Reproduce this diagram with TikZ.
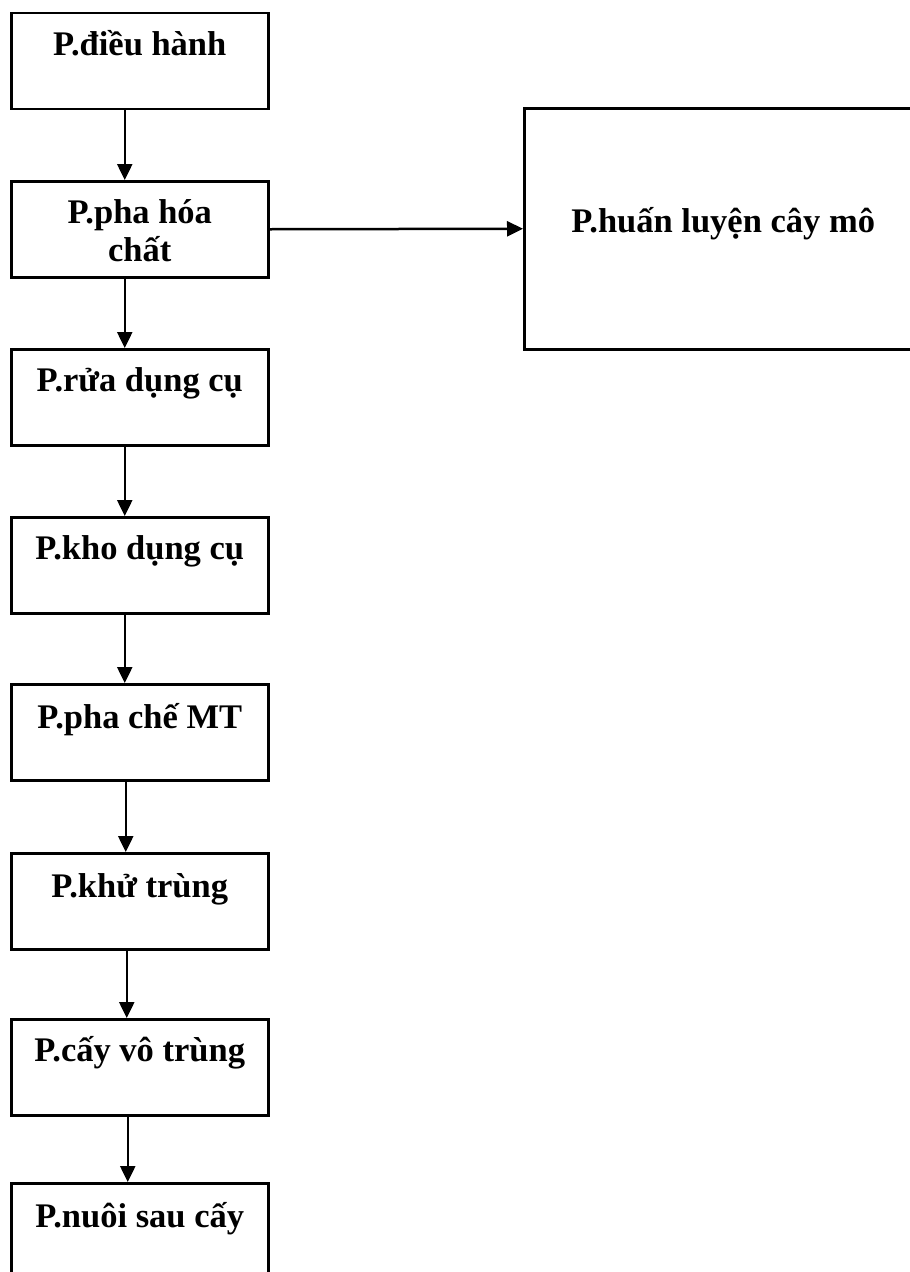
\documentclass[tikz,border=0pt]{standalone}
\usepackage{fontspec}
\setmainfont{Liberation Serif}
\usetikzlibrary{positioning, arrows.meta}
\tikzset{
  room/.style={draw, line width=2.5pt, minimum width=257pt, minimum height=96pt, anchor=north west, inner sep=0pt},
  roomname/.style={font=\bfseries\fontsize{34.5}{38}\selectfont, align=center, inner sep=0pt},
  flow/.style={line width=2.5pt, -{Triangle[length=16pt, width=15pt]}}
}
\begin{document}
\begin{tikzpicture}[x=1pt, y=-1pt]
\useasboundingbox (0, 0) rectangle (910, 1272);
% left column of rooms
\node [room] (dieuhanh) at (10, 11.5) {};
\node [room] (phahoachat) at (10, 180) {};
\node [room] (ruadungcu) at (10, 348) {};
\node [room] (khodungcu) at (10, 516) {};
\node [room] (phacheMT) at (10, 683) {};
\node [room] (khutrung) at (10, 852) {};
\node [room] (cayvotrung) at (10, 1018) {};
\node [room] (nuoisaucay) at (10, 1182) {};
% room on the right
\node [room, minimum width=398pt, minimum height=241pt] (huanluyen) at (523, 107) {};
% names
\node [roomname, below=44pt of dieuhanh.north, anchor=base] (tdieuhanh) {P.điều hành};
\node [roomname, below=81pt of phahoachat.north, anchor=base] (tphahoachat) {P.pha hóa\\chất};
\node [roomname, below=43pt of ruadungcu.north, anchor=base] (truadungcu) {P.rửa dụng cụ};
\node [roomname, below=43pt of khodungcu.north, anchor=base] (tkhodungcu) {P.kho dụng cụ};
\node [roomname, below=45pt of phacheMT.north, anchor=base] (tphacheMT) {P.pha chế MT};
\node [roomname, below=45pt of khutrung.north, anchor=base] (tkhutrung) {P.khử trùng};
\node [roomname, below=43pt of cayvotrung.north, anchor=base] (tcayvotrung) {P.cấy vô trùng};
\node [roomname, below=45pt of nuoisaucay.north, anchor=base] (tnuoisaucay) {P.nuôi sau cấy};
\node [roomname, below=125pt of huanluyen.north, anchor=base] (thuanluyen) {P.huấn luyện cây mô};
% arrows
\foreach \a/\b/\s in {dieuhanh/phahoachat/-15, phahoachat/ruadungcu/-15, ruadungcu/khodungcu/-15, khodungcu/phacheMT/-15, phacheMT/khutrung/-14, khutrung/cayvotrung/-13, cayvotrung/nuoisaucay/-12}
  \draw [flow] ([xshift=\s pt]\a.south) -- ([xshift=\s pt]\b.north);
\draw [flow] (phahoachat.east) -- (huanluyen.west);
\end{tikzpicture}
\end{document}
